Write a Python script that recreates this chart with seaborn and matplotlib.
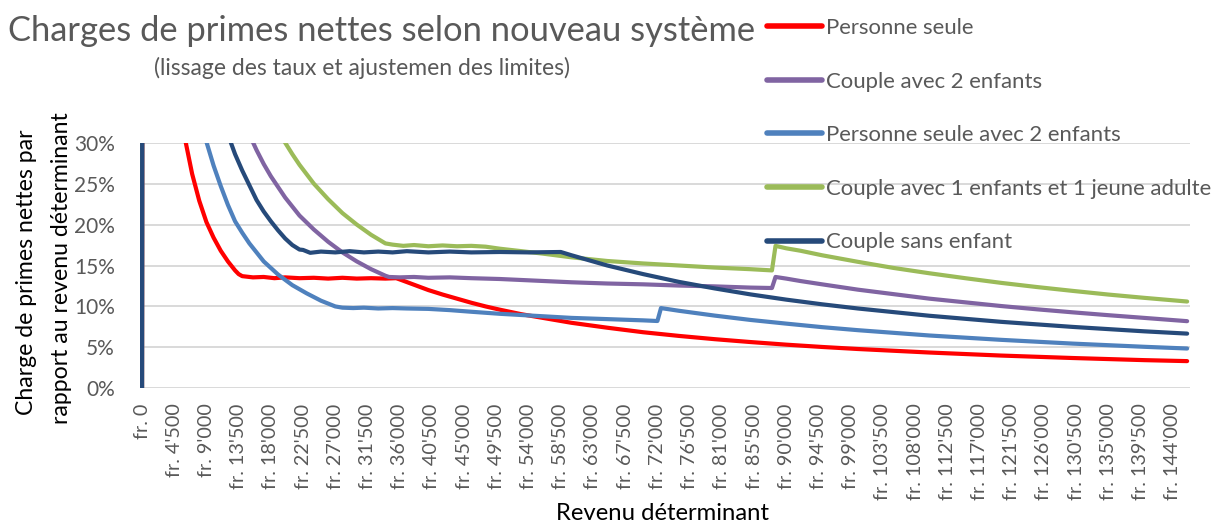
import numpy as np
import pandas as pd
import matplotlib
matplotlib.use("Agg")
import matplotlib.pyplot as plt
import seaborn as sns

# ---------------- data ----------------
series_names = [
    "Personne seule",
    "Couple avec 2 enfants",
    "Personne seule avec 2 enfants",
    "Couple avec 1 enfants et 1 jeune adulte",
    "Couple sans enfant",
]
series_colors = ["#FF0000", "#8064A2", "#4F81BD", "#9BBB59", "#264A7A"]

rev_red = [0, 500, 5000, 6000, 7000, 8000, 9000, 10000, 11000, 12000, 13000, 13500, 14000,
           15500, 17000, 18500, 20000, 22000, 24000, 26000, 28000, 30000, 32000, 34000, 35500,
           36000, 38000, 40000, 42000, 44000, 46000, 48000, 50000, 53000, 56000, 60000, 65000,
           70000, 75000, 80000, 85000, 90000, 95000, 100000, 110000, 120000, 130000, 140000, 146000]
val_red = [0, 370, 37.0, 30.5, 26.2, 22.9, 20.3, 18.4, 16.8, 15.5, 14.4, 13.95, 13.7,
           13.55, 13.6, 13.45, 13.55, 13.45, 13.5, 13.4, 13.5, 13.4, 13.45, 13.4, 13.45,
           13.3, 12.65, 12.0, 11.45, 10.95, 10.45, 10.0, 9.6, 9.05, 8.6, 8.0, 7.4,
           6.85, 6.4, 6.0, 5.65, 5.33, 5.05, 4.8, 4.37, 4.0, 3.7, 3.44, 3.32]

rev_purple = [0, 500, 14000, 15000, 16000, 17000, 18000, 20000, 22000, 24000, 26000, 28000,
              30000, 32000, 34000, 34500, 36000, 38000, 40000, 43000, 46000, 50000, 55000,
              60000, 65000, 70000, 75000, 80000, 85000, 88000, 88500, 90000, 92000, 95000,
              100000, 105000, 110000, 115000, 120000, 125000, 130000, 135000, 140000, 146000]
val_purple = [0, 930, 33.2, 31.0, 29.1, 27.4, 25.9, 23.3, 21.1, 19.4, 17.9, 16.6,
              15.5, 14.55, 13.75, 13.6, 13.55, 13.6, 13.5, 13.55, 13.45, 13.35, 13.15,
              12.95, 12.8, 12.7, 12.55, 12.45, 12.3, 12.25, 13.6, 13.4, 13.1, 12.7,
              12.05, 11.5, 10.95, 10.5, 10.05, 9.65, 9.28, 8.93, 8.6, 8.2]

rev_blue = [0, 500, 8000, 9000, 10000, 11000, 12000, 13000, 14000, 15000, 17000, 19000,
            21000, 23000, 25000, 27000, 28000, 29500, 31000, 33000, 35000, 37000, 40000,
            43000, 46000, 50000, 55000, 60000, 65000, 70000, 72000, 72500, 75000, 80000,
            85000, 90000, 95000, 100000, 110000, 120000, 130000, 140000, 146000]
val_blue = [0, 540, 33.8, 30.1, 27.2, 24.7, 22.4, 20.4, 19.0, 17.7, 15.5, 13.9,
            12.6, 11.6, 10.7, 10.0, 9.85, 9.8, 9.85, 9.75, 9.8, 9.75, 9.7,
            9.55, 9.35, 9.1, 8.85, 8.6, 8.45, 8.3, 8.22, 9.8, 9.47, 8.88,
            8.35, 7.9, 7.47, 7.1, 6.45, 5.92, 5.46, 5.07, 4.86]

rev_green = [0, 500, 18000, 19000, 20000, 21000, 22000, 24000, 26000, 28000, 30000, 32000,
             34000, 35000, 36500, 38000, 40000, 42000, 44000, 46000, 48000, 50000, 53000,
             56000, 60000, 65000, 70000, 75000, 80000, 85000, 88000, 88500, 90000, 92000,
             95000, 100000, 105000, 110000, 115000, 120000, 125000, 130000, 135000, 140000, 146000]
val_green = [0, 1200, 33.3, 31.6, 30.0, 28.6, 27.3, 25.0, 23.1, 21.4, 20.0, 18.75,
             17.7, 17.55, 17.4, 17.5, 17.35, 17.45, 17.35, 17.4, 17.3, 17.05, 16.75,
             16.45, 16.0, 15.55, 15.25, 15.0, 14.75, 14.55, 14.4, 17.4, 17.1, 16.8,
             16.25, 15.45, 14.7, 14.05, 13.45, 12.88, 12.37, 11.9, 11.45, 11.05, 10.6]

rev_dark = [0, 500, 11000, 12000, 13000, 14000, 15000, 16000, 17000, 18000, 19000, 20000,
            21000, 22000, 22500, 23500, 25000, 27000, 29000, 31000, 33000, 35000, 37000,
            40000, 43000, 46000, 50000, 54000, 58500, 60000, 62000, 65000, 70000, 75000,
            80000, 85000, 90000, 95000, 100000, 110000, 120000, 130000, 140000, 146000]
val_dark = [0, 744, 33.8, 31.0, 28.6, 26.6, 24.8, 23.0, 21.6, 20.4, 19.3, 18.3,
            17.5, 16.95, 16.9, 16.55, 16.7, 16.6, 16.75, 16.6, 16.7, 16.6, 16.75,
            16.6, 16.7, 16.6, 16.65, 16.6, 16.65, 16.25, 15.75, 15.0, 13.95, 13.0,
            12.2, 11.47, 10.83, 10.26, 9.75, 8.86, 8.12, 7.5, 6.96, 6.68]

x_tick_values = list(range(0, 144001, 4500))
x_tick_labels = ["fr. " + f"{v:,}".replace(",", "'") for v in x_tick_values]
y_tick_values = [0, 5, 10, 15, 20, 25, 30]
y_tick_labels = [f"{v}%" for v in y_tick_values]

title_text = "Charges de primes nettes selon nouveau système"
subtitle_text = "(lissage des taux et ajustemen des limites)"
xlabel_text = "Revenu déterminant"
ylabel_line1 = "Charge de primes nettes par"
ylabel_line2 = "rapport au revenu déterminant"

# ---------------- build table ----------------
frames = []
for name, r, v in zip(series_names,
                      [rev_red, rev_purple, rev_blue, rev_green, rev_dark],
                      [val_red, val_purple, val_blue, val_green, val_dark]):
    frames.append(pd.DataFrame({"rev": r, "val": v, "serie": name}))
df = pd.concat(frames, ignore_index=True)

# ---------------- style ----------------
sns.set_theme(style="white")
plt.rcParams["font.family"] = ["Lato", "DejaVu Sans"]

W, H = 1216, 527
fig = plt.figure(figsize=(W / 100, H / 100), dpi=100)
fig.patch.set_facecolor("white")
ax = fig.add_axes([140 / W, (H - 388.3) / H, 1050 / W, 245.6 / H])

sns.lineplot(data=df, x="rev", y="val", hue="serie", hue_order=series_names,
             palette=series_colors, linewidth=3.0, estimator=None, sort=False,
             ax=ax, legend=True)
for ln in ax.get_lines():
    ln.set_solid_capstyle("round")
    ln.set_solid_joinstyle("round")

ax.set_xlim(-280, 146400)
ax.set_ylim(0, 30)
ax.set_xticks(x_tick_values)
ax.set_xticklabels(x_tick_labels, rotation=90, fontsize=14.2, color="#595959")
ax.set_yticks(y_tick_values)
ax.set_yticklabels(y_tick_labels, fontsize=15, color="#595959")
ax.tick_params(axis="both", length=0)
ax.tick_params(axis="y", pad=18)
ax.tick_params(axis="x", pad=11)
for lab in ax.get_xticklabels():
    lab.set_va("top")
    lab.set_ha("center")
ax.set_xlabel("")
ax.set_ylabel("")
ax.grid(axis="y", color="#D9D9D9", linewidth=1.4)
ax.grid(axis="x", visible=False)
ax.set_axisbelow(True)
for s in ax.spines.values():
    s.set_visible(False)

# legend (no frame, to the right, above plot)
handles, labels = ax.get_legend_handles_labels()
for h in handles:
    h.set_linewidth(4)
leg = ax.legend(handles, labels, loc="upper left",
                bbox_to_anchor=(767 / W, 1 - 18 / H), bbox_transform=fig.transFigure,
                frameon=False, fontsize=15.9, handlelength=2.5, handletextpad=0.18,
                labelspacing=1.52, borderaxespad=0, borderpad=0)
for t in leg.get_texts():
    t.set_color("#595959")

# titles / labels
fig.text(8 / W, 1 - 31 / H, title_text, ha="left", va="center",
         fontsize=24.8, color="#595959")
fig.text(154 / W, 1 - 68 / H, subtitle_text, ha="left", va="center",
         fontsize=16.5, color="#595959")
fig.text(663 / W, 1 - 514 / H, xlabel_text, ha="center", va="center",
         fontsize=17.2, color="#000000")
fig.text(27 / W, 1 - 272 / H, ylabel_line1, ha="center", va="center",
         rotation=90, fontsize=16.6, color="#000000")
fig.text(62 / W, 1 - 268 / H, ylabel_line2, ha="center", va="center",
         rotation=90, fontsize=16.6, color="#000000")

fig.savefig("out.png", dpi=100, facecolor="white")
